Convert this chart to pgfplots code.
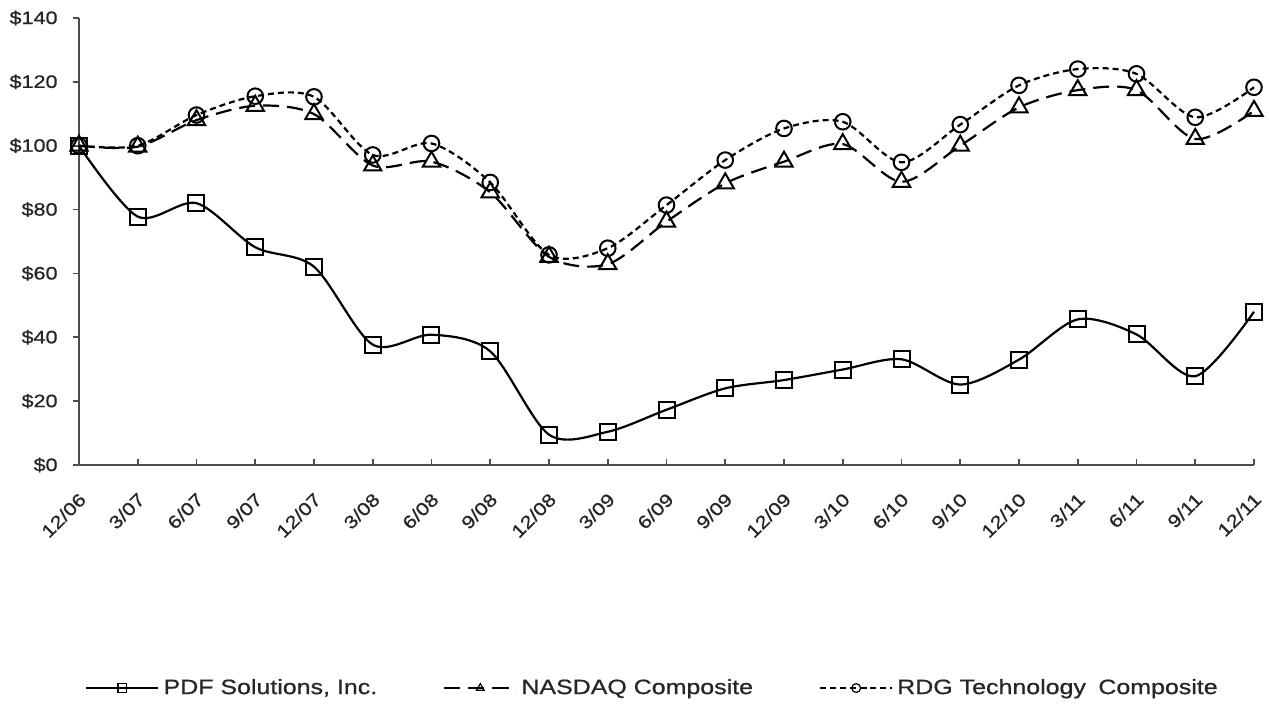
\documentclass[border=0pt]{standalone}
\usepackage{fontspec}
\setmainfont{Liberation Sans}[FakeStretch=1.2, FakeBold=0.8]
\usepackage{pgfplots}
\pgfplotsset{compat=1.18}
\begin{document}
\begin{tikzpicture}
\begin{axis}[
  scale only axis,
  width=587.5pt, height=223.5pt,
  xmin=0, xmax=20, ymin=0, ymax=140,
  clip=false,
  axis lines=left,
  axis line style={-, draw=black!70, line width=0.8pt},
  tick align=inside,
  major tick length=3pt,
  tick style={draw=black!70, line width=0.8pt},
  ytick style={xshift=-3pt},
  xtick={0,...,20},
  xticklabels={12/06,3/07,6/07,9/07,12/07,3/08,6/08,9/08,12/08,3/09,6/09,9/09,12/09,3/10,6/10,9/10,12/10,3/11,6/11,9/11,12/11},
  ytick={0,20,...,140},
  yticklabels={\$0,\$20,\$40,\$60,\$80,\$100,\$120,\$140},
  xticklabel style={xshift=-0.5pt, yshift=-13pt, rotate=45, anchor=north east, inner sep=0pt, font=\fontsize{9}{10}\selectfont, text=black!85},
  yticklabel style={inner sep=0pt, xshift=-10.5pt, font=\fontsize{9}{10}\selectfont, text=black!85},
  legend columns=3,
  legend style={draw=none, fill=none, at={(rel axis cs:0.489,-0.499)}, anchor=center,
    font=\fontsize{10.4}{12}\selectfont, text=black!85,
    /tikz/every even column/.append style={column sep=31pt}},
  legend image code/.code={\draw[#1, mark repeat=2, mark phase=2, mark size=2.2pt, mark options={solid, line width=0.6pt}] plot coordinates {(0pt,0pt) (18pt,0pt) (36pt,0pt)};},
]
\addplot[black, line width=1.1pt, smooth, tension=0.5, mark=square, mark size=4pt, mark options={solid, fill=none, line width=1pt}]
coordinates {(0,100) (1,77.8) (2,82.0) (3,68.2) (4,62.1) (5,37.7) (6,40.8) (7,35.6) (8,9.5) (9,10.4) (10,17.3) (11,24.0) (12,26.6) (13,29.9) (14,33.1) (15,25.2) (16,33.0) (17,45.6) (18,40.9) (19,27.8) (20,48.0)};
\addlegendentry{PDF Solutions, Inc.}
\addplot[black, line width=1.1pt, smooth, tension=0.5, dash pattern=on 8pt off 4pt, mark=triangle, mark size=5pt, mark options={solid, fill=none, line width=1pt}]
coordinates {(0,100) (1,99.7) (2,108.0) (3,112.5) (4,109.9) (5,93.8) (6,95.0) (7,85.4) (8,65.2) (9,62.9) (10,76.2) (11,88.2) (12,95.0) (13,100.5) (14,88.7) (15,100.0) (16,112.0) (17,117.4) (18,117.4) (19,102.1) (20,110.9)};
\addlegendentry{NASDAQ Composite}
\addplot[black, line width=1.1pt, smooth, tension=0.5, dash pattern=on 3pt off 2pt, mark=o, mark size=3.9pt, mark options={solid, fill=none, line width=1pt}]
coordinates {(0,100) (1,100) (2,109.6) (3,115.5) (4,115.3) (5,97.1) (6,100.7) (7,88.5) (8,65.8) (9,67.9) (10,81.4) (11,95.5) (12,105.4) (13,107.5) (14,94.8) (15,106.6) (16,118.9) (17,124.0) (18,122.5) (19,108.9) (20,118.3)};
\addlegendentry{RDG Technology\hspace{0.6em}Composite}
\path (rel axis cs:-0.06723,-0.5302) rectangle (rel axis cs:1.01277,1.04027);
\end{axis}
\end{tikzpicture}
\end{document}
